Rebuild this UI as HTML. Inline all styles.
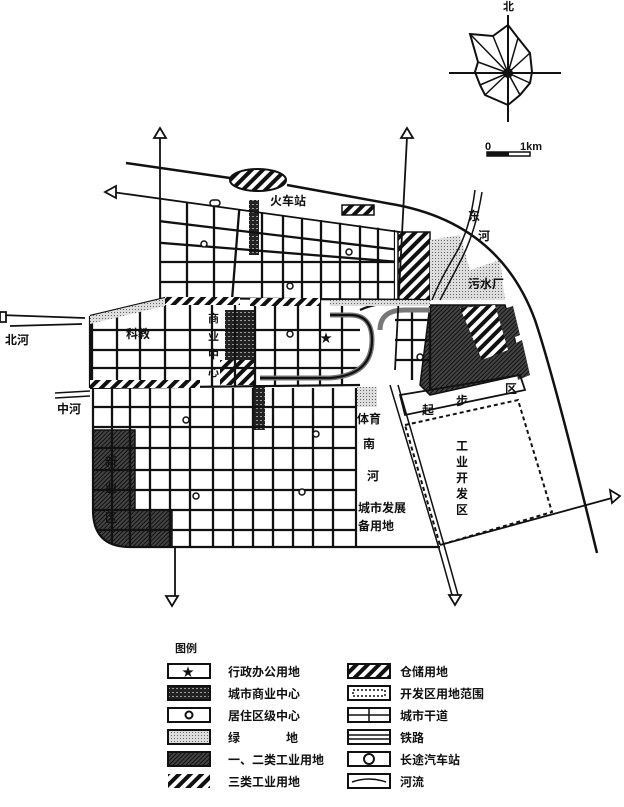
<!DOCTYPE html>
<html><head><meta charset="utf-8"><style>
html,body{margin:0;padding:0;background:#fff}
svg{display:block}
text{font-family:"Liberation Sans","Noto Sans CJK SC",sans-serif;fill:#111;font-weight:bold}
</style></head><body>
<svg width="624" height="807" viewBox="0 0 624 807" xmlns="http://www.w3.org/2000/svg">
<defs>
<pattern id="hw" width="8" height="8" patternUnits="userSpaceOnUse" patternTransform="rotate(-45)"><rect width="8" height="8" fill="#fff"/><rect width="8" height="4" fill="#111"/></pattern>
<pattern id="hd" width="3" height="3" patternUnits="userSpaceOnUse" patternTransform="rotate(-45)"><rect width="3" height="3" fill="#444"/><rect width="3" height="1" fill="#111"/></pattern>
<pattern id="dt" width="3" height="3" patternUnits="userSpaceOnUse"><rect width="3" height="3" fill="#ddd"/><rect width="1" height="1" fill="#666"/></pattern>
<pattern id="bz" width="4" height="4" patternUnits="userSpaceOnUse"><rect width="4" height="4" fill="#222"/><rect width="2" height="1" fill="#999"/></pattern>
<clipPath id="cN"><polygon points="160,199 395,230 395,300 160,300"/></clipPath>
<clipPath id="cM"><polygon points="90,316 165,298 360,300 360,386 90,389"/></clipPath>
<clipPath id="cS"><path d="M93,388 H356 V547 H130 Q93,547 93,510 Z"/></clipPath>
</defs>

<!-- compass -->
<g stroke="#111" stroke-width="2" fill="none">
<line x1="449" y1="73" x2="561" y2="73"/><line x1="508" y1="15" x2="508" y2="122"/>
<polygon points="508,25 493,36 470,34 478,62 475,72 480,85 485,95 508,105 520,95 530,83 532,72 530,53 518,38"/>
<g stroke-width="1.5"><line x1="508" y1="73" x2="470" y2="34"/><line x1="508" y1="73" x2="493" y2="36"/><line x1="508" y1="73" x2="478" y2="62"/><line x1="508" y1="73" x2="480" y2="85"/><line x1="508" y1="73" x2="485" y2="95"/><line x1="508" y1="73" x2="520" y2="95"/><line x1="508" y1="73" x2="530" y2="83"/><line x1="508" y1="73" x2="530" y2="53"/><line x1="508" y1="73" x2="518" y2="38"/></g>
</g>
<circle cx="508" cy="73" r="5" fill="#111"/>
<text x="503" y="10" font-size="11">北</text>
<text x="485" y="150" font-size="11">0</text><text x="520" y="150" font-size="11">1km</text>
<rect x="487" y="152" width="43" height="4" fill="#fff" stroke="#111" stroke-width="1.5"/><rect x="487" y="152" width="22" height="4" fill="#111"/>

<!-- region fills -->
<rect x="398" y="232" width="32" height="68" fill="url(#hw)" stroke="#111" stroke-width="1.5"/>
<polygon points="430,240 460,235 470,270 500,260 505,300 430,300" fill="url(#dt)"/>
<polygon points="430,305 505,305 515,340 520,375 430,395 420,385" fill="url(#hd)" stroke="#111" stroke-width="1.5"/>
<polygon points="460,308 495,305 508,350 482,360" fill="url(#hw)"/>
<polygon points="500,310 513,306 520,335 508,340" fill="url(#hd)"/>
<polygon points="512,345 522,340 530,375 518,380" fill="url(#hd)"/>
<path d="M93,430 H135 V510 H172 V547 H130 Q93,547 93,510 Z" fill="url(#hd)" stroke="#111" stroke-width="1.5"/>
<rect x="225" y="310" width="30" height="60" fill="url(#bz)"/>
<rect x="249" y="200" width="10" height="55" fill="url(#bz)"/>
<rect x="253" y="385" width="12" height="45" fill="url(#bz)"/>
<polygon points="220,360 255,360 255,385 220,385" fill="url(#hw)"/>

<!-- grids -->
<g stroke="#111" stroke-width="2.3" fill="none">
<g clip-path="url(#cN)">
<path d="M160,200 V300 M187,200 V300 M214,200 V300 M240,200 L232,300 M262,200 V300 M283,200 V300 M302,200 V300 M321,200 V300 M340,200 V300 M360,200 V300 M378,200 V300 M395,200 V300"/>
<path d="M150,220 L400,250 M150,242 L400,262 M150,262 H400 M150,282 H400"/>
</g>
<g clip-path="url(#cM)">
<path d="M92,300 V390 M117,300 V390 M140,300 V390 M165,300 V390 M190,300 V390 M212,300 V390 M235,300 V390 M255,300 V390 M275,300 V390 M298,300 V390 M320,300 V390 M342,300 V390"/>
<path d="M85,330 H360 M85,350 H360 M85,368 H360"/>
</g>
<g clip-path="url(#cS)">
<path d="M112,385 V550 M130,385 V550 M150,385 V550 M170,385 V550 M190,385 V550 M213,385 V550 M233,385 V550 M253,385 V550 M273,385 V550 M293,385 V550 M313,385 V550 M333,385 V550"/>
<path d="M90,407 H360 M90,427 H360 M90,448 H360 M90,470 H360 M90,490 H360 M90,510 H360 M90,530 H360"/>
</g>
<path d="M395,320 H430 M395,340 H430 M395,360 H430 M412,310 V380 M430,305 V390"/>
</g>
<g stroke="#111" stroke-width="2.2" fill="none">
<path d="M93,388 V510 Q93,547 130,547 H440"/>
<path d="M356,388 V547"/>
<path d="M90,316 V388"/>
<path d="M90,316 L165,298 L430,300"/><path d="M90,388 L360,385"/>
<path d="M360,310 Q380,300 430,302"/>
<path d="M330,315 H350 Q372,315 372,340 Q372,375 330,378 H260" stroke-width="5" stroke="#777"/>
<path d="M330,315 H350 Q372,315 372,340 Q372,375 330,378 H260"/>
<path d="M380,330 Q380,310 405,310 H430" stroke-width="5" stroke="#777"/>
<path d="M126,163 L230,178 M287,185 L397,205 Q500,225 535,320 Q555,380 597,553" stroke-width="2.5"/>
<path d="M112,192 L400,232" stroke-width="1.8"/>
<path d="M160,137 V300 M175,547 V598 M407,137 L395,370" stroke-width="1.8"/>
<path d="M440,545 L612,498" stroke-width="1.8"/>
<path d="M390,385 L438,545 L452,595 M398,385 L444,545 L458,595" stroke-width="1.5"/>
<path d="M0,315 L85,318 M10,326 L82,324" stroke-width="1.8"/>
<path d="M55,398 L90,396 M55,393 L90,391" stroke-width="1.5"/>
<path d="M475,190 Q470,230 455,255 Q440,280 432,300 M482,192 Q476,230 462,258 Q448,285 440,300" stroke-width="1.5"/>
<polygon points="400,395 520,375 525,390 405,415" stroke-width="1.8"/>
<polygon points="405,425 518,400 552,512 440,545" stroke-width="2" stroke-dasharray="4,3"/>
</g>
<rect x="165" y="297" width="75" height="8" fill="url(#hw)"/>
<rect x="250" y="298" width="70" height="8" fill="url(#hw)"/>
<rect x="90" y="380" width="110" height="8" fill="url(#hw)"/>
<polygon points="90,316 165,298 165,306 90,324" fill="url(#dt)"/>
<rect x="330" y="300" width="100" height="6" fill="url(#dt)"/>
<rect x="357" y="387" width="20" height="20" fill="url(#dt)"/>
<ellipse cx="258" cy="180" rx="28" ry="11" fill="url(#hw)" stroke="#111" stroke-width="2"/>
<rect x="342" y="205" width="32" height="10" fill="url(#hw)" stroke="#111" stroke-width="1.5"/>
<rect x="210" y="200" width="10" height="6" rx="3" fill="#fff" stroke="#111" stroke-width="1.5"/>
<g fill="#fff" stroke="#111" stroke-width="1.8">
<polygon points="160,128 154,138 166,138"/><polygon points="407,128 401,138 413,138"/>
<polygon points="105,192 116,186 116,198"/><polygon points="620,496 610,490 612,503"/>
<polygon points="172,606 166,596 178,596"/><polygon points="455,605 449,595 461,595"/>
<polygon points="0,312 6,312 6,322 0,322"/>
</g>
<g fill="#fff" stroke="#111" stroke-width="1.5">
<circle cx="204" cy="244" r="3"/><circle cx="349" cy="252" r="3"/><circle cx="290" cy="286" r="3"/>
<circle cx="290" cy="334" r="3"/><circle cx="420" cy="357" r="3"/><circle cx="186" cy="420" r="3"/>
<circle cx="316" cy="434" r="3"/><circle cx="196" cy="496" r="3"/><circle cx="302" cy="492" r="3"/>
</g>
<text x="320" y="342" font-size="12">★</text>
<g font-size="12">
<text x="270" y="205">火车站</text>
<text x="468" y="220">东</text><text x="478" y="240">河</text><text x="468" y="288">污水厂</text>
<text x="126" y="338">科教</text>
<text x="208" y="322" font-size="11">商</text><text x="208" y="340" font-size="11">业</text><text x="208" y="358" font-size="11">中</text><text x="208" y="376" font-size="11">心</text>
<text x="5" y="344">北河</text><text x="57" y="413">中河</text>
<text x="357" y="423">体育</text>
<text x="363" y="448">南</text><text x="367" y="480">河</text>
<text x="358" y="512">城市发展</text><text x="358" y="530">备用地</text>
<text x="422" y="414">起</text><text x="456" y="405">步</text><text x="505" y="393">区</text>
<text x="456" y="450">工</text><text x="456" y="466">业</text><text x="456" y="482">开</text><text x="456" y="498">发</text><text x="456" y="514">区</text>
<text x="105" y="466" fill="#fff">新</text><text x="105" y="492" fill="#fff">业</text><text x="105" y="522" fill="#fff">区</text>
</g>

<text x="175" y="652" font-size="11">图例</text>
<g stroke="#111" stroke-width="2" fill="#fff">
<rect x="168" y="664" width="42" height="14"/><rect x="168" y="686" width="42" height="14" fill="url(#bz)"/>
<rect x="168" y="708" width="42" height="14"/><rect x="168" y="730" width="42" height="14" fill="url(#dt)"/>
<rect x="168" y="752" width="42" height="14" fill="url(#hd)"/><rect x="168" y="774" width="42" height="14" fill="url(#hw)" stroke="none"/>
<rect x="348" y="664" width="42" height="14" fill="url(#hw)"/><rect x="348" y="686" width="42" height="14"/>
<rect x="348" y="708" width="42" height="14"/><rect x="348" y="730" width="42" height="14"/>
<rect x="348" y="752" width="42" height="14"/><rect x="348" y="774" width="42" height="14"/>
<circle cx="189" cy="715" r="3.5"/><circle cx="369" cy="759" r="5"/>
</g>
<g stroke="#111" stroke-width="1.5" fill="none">
<rect x="353" y="690" width="32" height="6" stroke-dasharray="2,2"/>
<path d="M348,715 H390 M369,708 V722 M348,735 H390 M348,739 H390 M352,782 Q369,776 386,782"/>
</g>
<text x="182" y="676" font-size="12">★</text>
<g font-size="12">
<text x="228" y="676">行政办公用地</text><text x="228" y="698">城市商业中心</text>
<text x="228" y="720">居住区级中心</text><text x="228" y="742">绿</text><text x="286" y="742">地</text>
<text x="228" y="764">一、二类工业用地</text><text x="228" y="786">三类工业用地</text>
<text x="400" y="676">仓储用地</text><text x="400" y="698">开发区用地范围</text>
<text x="400" y="720">城市干道</text><text x="400" y="742">铁路</text>
<text x="400" y="764">长途汽车站</text><text x="400" y="786">河流</text>
</g>
</svg>
</body></html>
